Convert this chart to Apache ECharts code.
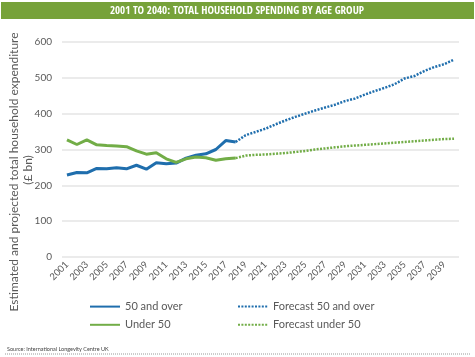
<!DOCTYPE html>
<html><head><meta charset="utf-8">
<script src="https://cdn.jsdelivr.net/npm/echarts@6/dist/echarts.min.js"></script>
<style>html,body{margin:0;padding:0;background:#fff}#c{width:475px;height:357px}</style>
</head><body><div id="c"></div>
<script>
const years = [];
for (let y = 2001; y <= 2040; y++) years.push(String(y));
const over50Actual = [229,236,235,247,246,249,246,256,245,263,260,262,276,284,288,300,325,321];
const under50Actual = [327,314,327,313,311,310,308,296,287,291,274,264,274,279,277,270,274,276];
// forecast values from 2018 to 2040
const over50Forecast = [321,340,349,358,370,381,391,400,409,417,425,435,442,453,463,472,482,498,505,519,530,538,551];
const under50Forecast = [276,283,285,286,288,290,293,296,300,303,306,309,311,313,315,317,319,321,323,325,327,329,330];
const yTicks = [0,100,200,300,400,500,600];

const blue = '#1f6ead', green = '#72ad47';
const forecastStart = years.length - over50Forecast.length;
function pad(arr, start) { const out = new Array(years.length).fill(null); arr.forEach((v,i)=>{out[start+i]=v;}); return out; }

const chart = echarts.init(document.getElementById('c'));
const txt = '#595959', font = 'Lato';
const legendCommon = { orient: 'vertical', top: 296, itemWidth: 30, itemHeight: 14, itemGap: 7, itemStyle: { opacity: 0 },
  textStyle: { fontSize: 11, color: txt, fontFamily: font } };
chart.setOption({
  animation: false,
  textStyle: { fontFamily: font },
  grid: { left: 62, right: 16, top: 42, bottom: 100 },
  xAxis: {
    type: 'category', data: years, boundaryGap: true,
    axisLine: { show: false }, axisTick: { show: false },
    axisLabel: { interval: 1, rotate: 45, fontSize: 9.5, color: txt, margin: 6, fontFamily: font }
  },
  yAxis: {
    type: 'value', min: yTicks[0], max: yTicks[yTicks.length-1], interval: 100,
    axisLine: { show: false }, axisTick: { show: false },
    axisLabel: { fontSize: 10, color: txt, margin: 10, fontFamily: font },
    splitLine: { lineStyle: { color: '#e4e4e4', width: 1.5 } }
  },
  legend: [
    Object.assign({ data: ['50 and over','Under 50'], left: 84 }, legendCommon),
    Object.assign({ data: ['Forecast 50 and over','Forecast under 50'], left: 232 }, legendCommon)
  ],
  series: [
    { name: '50 and over', type: 'line', data: pad(over50Actual, 0), symbol: 'none', color: blue, lineStyle: { width: 3, color: blue } },
    { name: 'Under 50', type: 'line', data: pad(under50Actual, 0), symbol: 'none', color: green, lineStyle: { width: 3, color: green } },
    { name: 'Forecast 50 and over', type: 'line', data: pad(over50Forecast, forecastStart), symbol: 'none', color: blue, lineStyle: { width: 2.5, color: blue, type: [2, 1.4] } },
    { name: 'Forecast under 50', type: 'line', data: pad(under50Forecast, forecastStart), symbol: 'none', color: green, lineStyle: { width: 2.5, color: green, type: [2, 1.4] } }
  ],
  graphic: [
    { type: 'rect', shape: { x: 1, y: 2, width: 473, height: 17 }, style: { fill: '#77a23a' } },
    { type: 'text', x: 237, y: 11, style: { text: '2001 TO 2040: TOTAL HOUSEHOLD SPENDING BY AGE GROUP', fill: '#fff', font: 'bold 11px "Open Sans Condensed", "Liberation Sans Narrow", Lato', textAlign: 'center', textVerticalAlign: 'middle' } },
    { type: 'text', x: 14, y: 172, rotation: Math.PI/2, style: { text: 'Estimated and projected total household expenditure', fill: txt, font: '12px Lato', textAlign: 'center', textVerticalAlign: 'middle' } },
    { type: 'text', x: 28, y: 170, rotation: Math.PI/2, style: { text: '(£ bn)', fill: txt, font: '12px Lato', textAlign: 'center', textVerticalAlign: 'middle' } },
    { type: 'text', x: 7, y: 349, style: { text: 'Source: International Longevity Centre UK', fill: '#444', font: '5.5px Lato', textVerticalAlign: 'middle' } },
    { type: 'line', shape: { x1: 5, y1: 354, x2: 471, y2: 354 }, style: { stroke: '#999', lineWidth: 1, lineDash: [1, 1] } }
  ]
});
</script></body></html>
